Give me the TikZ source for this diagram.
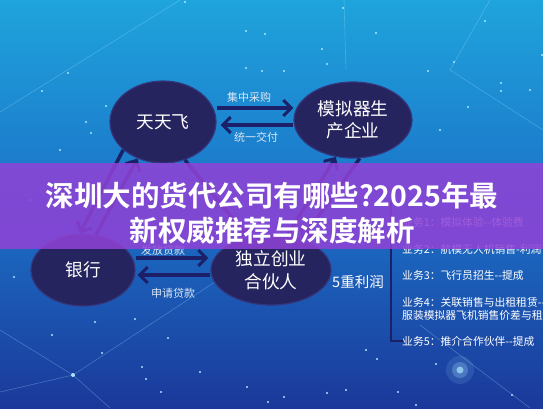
\documentclass[tikz,border=0pt]{standalone}
\usepackage{fontspec}
\newfontfamily\cjk{Noto Sans CJK SC}
\newfontfamily\cjkb{Noto Sans CJK SC Bold}
\usetikzlibrary{shapes.geometric,arrows.meta,calc}
\definecolor{navy}{HTML}{25245E}
\definecolor{navyedge}{HTML}{34367E}
\definecolor{arrowc}{HTML}{1B2068}
\definecolor{bandc}{HTML}{9042D6}
\definecolor{skytop}{HTML}{1FA4DC}
\definecolor{skymid}{HTML}{1B72C8}
\definecolor{skybot}{HTML}{1B389A}
\definecolor{starc}{HTML}{A8E6FF}
\definecolor{lblc}{HTML}{DCE6F4}
\begin{document}
\begin{tikzpicture}[x=1pt,y=-1pt,
  blob/.style={ellipse, fill=navy, draw=navyedge, line width=1.2pt, text=white,
    font=\cjk\fontsize{17.7}{22.5}\selectfont, align=center, inner sep=0pt},
  arr/.style={draw=arrowc, line width=3.5pt, -{Straight Barb[length=8pt,width=16pt,line width=3pt]}},
  lbl/.style={text=lblc, font=\cjk\fontsize{11}{13}\selectfont, inner sep=1pt},
  item/.style={text=white, font=\cjk\fontsize{10.8}{12.5}\selectfont, anchor=west, inner sep=0pt, align=left},
  stardot/.style={fill=starc, circle, inner sep=0pt, minimum size=2.2pt},
  cline/.style={draw=starc, opacity=0.3, line width=0.6pt},
  titletext/.style={text=white, font=\cjkb\fontsize{28.5}{35}\selectfont, inner sep=0pt}]
\useasboundingbox (0,0) rectangle (543,408);
\clip (0,0) rectangle (543,408);
% background
\shade[top color=skytop, bottom color=skybot, middle color=skymid] (0,0) rectangle (543,408);
% constellation lines
\draw[cline] (0,112) -- (180,0);
\draw[cline] (344,0) -- (346,70);
\draw[cline] (490,0) -- (450,70) -- (543,130);
\draw[cline] (0,330) -- (73,375) -- (0,392);
\draw[cline] (73,375) -- (215,282);
\draw[cline] (73,375) -- (110,408);
\draw[cline] (420,325) -- (530,408);
% stars
\foreach \p in {(185,2),(343,8),(246,31),(265,34),(376,33),(322,49),(327,64),(246,68),(262,71),(284,71),
  (440,130),(428,71),(485,21),(501,83),(501,91),(68,73),(42,91),(86,122),(106,106),(91,133),(454,62),
  (530,90),(542,55),(468,107),(95,322),(52,335),(102,353),(135,319),(168,338),(142,367),(146,379),
  (161,392),(247,387),(268,402),(284,397),(327,393),(346,390),(366,350),(398,392),(416,405),(436,364),
  (512,395),(377,359),(14,277),(60,150),(30,200),(200,372)}
  \node[stardot] at \p {};
\node[stardot, minimum size=4pt] at (73,375) {};
% glow
\fill[starc, opacity=0.12] (460,370) circle (14);
\fill[starc, opacity=0.25] (460,370) circle (8);
\fill[starc, opacity=0.7] (460,370) circle (3.5);
% nodes
\node[blob, minimum width=106pt, minimum height=82pt] (tf) at (163,122) {天天飞};
\node[blob, minimum width=118pt, minimum height=76pt] (mn) at (353,120) {模拟器生\\产企业};
\node[blob, minimum width=104pt, minimum height=72pt] (yh) at (83,270) {银行};
\node[blob, minimum width=120pt, minimum height=70pt] (dl) at (271,270) {独立创业\\合伙人};
% horizontal arrows
\coordinate (a1) at ([yshift=14pt]tf.east);
\draw[arr] (a1) -- (a1 -| mn.west);
\coordinate (a2) at ([yshift=-5pt]mn.west);
\draw[arr] (a2) -- ([xshift=4pt]a2 -| tf.east);
\node[lbl] (l1) at (249,97) {集中采购};
\node[lbl] (l2) at (256,137) {统一交付};
\coordinate (b1) at ([yshift=12pt]yh.east);
\draw[arr] (b1) -- ([xshift=-2pt]b1 -| dl.west);
\coordinate (b2) at ([yshift=-5pt]dl.west);
\draw[arr] (b2) -- ([xshift=2pt]b2 -| yh.east);
\node[lbl] (l3) at (163,250) {发放贷款};
\node[lbl] (l4) at (173,293) {申请贷款};
% diagonal arrows (mostly under the band)
\draw[arr] (yh.70) -- (tf.235);
\draw[arr] (tf.215) -- (yh.95);
\draw[arr] (tf.300) -- (dl.125);
\draw[arr] (dl.65) -- (mn.245);
\draw[arr] (mn.280) -- (dl.45);
% right side
\node[text=white, font=\cjk\fontsize{14.5}{16}\selectfont, inner sep=0pt] (lr) at (358,282) {5重利润};
\draw[arrowc, line width=2pt] (403,203) -- (391,203) -- (391,341) -- (403,341);
\node[item] (i1) at (402,222) {业务1：模拟体验{-}{-}体验费};
\node[item] (i2) at (402,249) {业务2：航模无人机销售{-}利润};
\node[item] (i3) at (402,275) {业务3：飞行员招生{-}{-}提成};
\node[item] (i4) at (402,309) {业务4：关联销售与出租租赁{-}{-}\\服装模拟器飞机销售价差与租金};
\node[item] (i5) at (402,341) {业务5：推介合作伙伴{-}{-}提成};
% band
\fill[bandc, opacity=0.86] (0,163) rectangle (543,249);
\node[titletext] (t1) at (272,196) {深圳大的货代公司有哪些?2025年最};
\node[titletext] (t2) at (272,231) {新权威推荐与深度解析};
\end{tikzpicture}
\end{document}
